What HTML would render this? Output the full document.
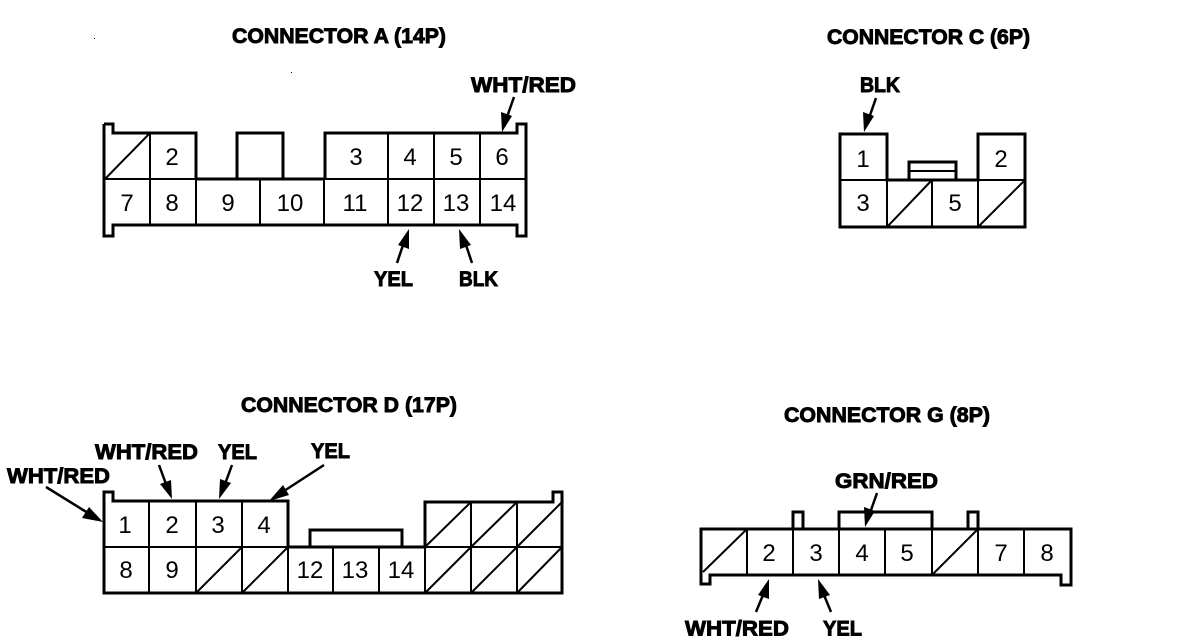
<!DOCTYPE html>
<html>
<head>
<meta charset="utf-8">
<style>
html,body{margin:0;padding:0;background:#fff;width:1200px;height:644px;overflow:hidden}
svg{display:block}
.t{font-family:"Liberation Sans",sans-serif;font-weight:bold;font-size:21px;fill:#000;stroke:#000;stroke-width:.9px}
.n{font-family:"Liberation Sans",sans-serif;font-size:24px;fill:#000;text-anchor:middle}
.o{fill:none;stroke:#000;stroke-width:3;stroke-linejoin:miter}
.i{fill:none;stroke:#000;stroke-width:2}
.a{stroke:#000;stroke-width:2.5;fill:none}
.h{fill:#000;stroke:none}
</style>
</head>
<body>
<svg width="1200" height="644" viewBox="0 0 1200 644" xmlns="http://www.w3.org/2000/svg">
<rect width="1200" height="644" fill="#fff"/>

<!-- Titles -->
<text class="t" x="232" y="43" textLength="214" lengthAdjust="spacingAndGlyphs">CONNECTOR A (14P)</text>
<text class="t" x="827" y="44" textLength="203" lengthAdjust="spacingAndGlyphs">CONNECTOR C (6P)</text>
<text class="t" x="241" y="412" textLength="216" lengthAdjust="spacingAndGlyphs">CONNECTOR D (17P)</text>
<text class="t" x="784" y="422" textLength="206" lengthAdjust="spacingAndGlyphs">CONNECTOR G (8P)</text>

<!-- Connector A -->
<path class="o" d="M104 124H113V133H150"/>
<path class="o" d="M104 124V236H113V225H517V236H526V124H517V133H325V179"/>
<path class="o" d="M150 133H196V179M237 179V133H283V179M196 179H325"/>
<path class="i" d="M104 179H526M150 133V225M196 179V225M260 179V225M324 179V225M388 133V225M434 133V225M480 133V225M105 179L150 133"/>
<text class="n" x="172" y="165">2</text><text class="n" x="356" y="165">3</text><text class="n" x="410" y="165">4</text><text class="n" x="456" y="165">5</text><text class="n" x="502" y="165">6</text>
<text class="n" x="127" y="211">7</text><text class="n" x="172" y="211">8</text><text class="n" x="228" y="211">9</text><text class="n" x="290" y="211">10</text><text class="n" x="355" y="211">11</text><text class="n" x="410" y="211">12</text><text class="n" x="456" y="211">13</text><text class="n" x="503" y="211">14</text>
<text class="t" x="471" y="92" textLength="105" lengthAdjust="spacingAndGlyphs">WHT/RED</text>
<text class="t" x="374" y="286" textLength="39" lengthAdjust="spacingAndGlyphs">YEL</text>
<text class="t" x="459" y="286" textLength="39" lengthAdjust="spacingAndGlyphs">BLK</text>
<path class="a" d="M514 97L507 117"/><polygon class="h" points="502,132 501,112 512,116"/>
<path class="a" d="M397 263L403 245"/><polygon class="h" points="409,229 409,249 398,245"/>
<path class="a" d="M472 263L466 245"/><polygon class="h" points="459,229 471,245 460,249"/>

<!-- Connector C -->
<path class="o" d="M840 227V134H887V180H978V134H1025V227Z"/>
<path class="o" d="M909 180V162H956V180"/>
<path class="i" d="M909 171H956M840 180H887M887 180V227M932 180V227M978 180V227M978 180H1025M887 227L932 180M978 227L1025 180"/>
<text class="n" x="863" y="167">1</text><text class="n" x="1001" y="167">2</text><text class="n" x="863" y="211">3</text><text class="n" x="955" y="211">5</text>
<text class="t" x="860" y="92" textLength="40" lengthAdjust="spacingAndGlyphs">BLK</text>
<path class="a" d="M876 98L869 118"/><polygon class="h" points="864,132 863,112 874,116"/>

<!-- Connector D -->
<path class="o" d="M104 593V492H113V501H288V547H425V502H553V492H562V593Z"/>
<path class="o" d="M310 547V530H402V547"/>
<path class="i" d="M104 547H562M149 501V593M196 501V593M242 501V593M288 547V593M333 547V593M379 547V593M425 547V593M471 502V593M517 502V593M196 593L242 547M242 593L288 547M425 593L471 547M471 593L517 547M517 593L562 547M425 547L471 502M471 547L517 502M517 547L562 502"/>
<text class="n" x="125" y="533">1</text><text class="n" x="172" y="533">2</text><text class="n" x="218" y="533">3</text><text class="n" x="264" y="533">4</text>
<text class="n" x="126" y="578">8</text><text class="n" x="172" y="578">9</text><text class="n" x="310" y="578">12</text><text class="n" x="355" y="578">13</text><text class="n" x="401" y="578">14</text>
<text class="t" x="7" y="483" textLength="103" lengthAdjust="spacingAndGlyphs">WHT/RED</text>
<text class="t" x="95" y="459" textLength="103" lengthAdjust="spacingAndGlyphs">WHT/RED</text>
<text class="t" x="218" y="459" textLength="39" lengthAdjust="spacingAndGlyphs">YEL</text>
<text class="t" x="311" y="458" textLength="39" lengthAdjust="spacingAndGlyphs">YEL</text>
<path class="a" d="M46 487L88 513"/><polygon class="h" points="103,522 82,518 89,507"/>
<path class="a" d="M159 465L166 484"/><polygon class="h" points="172,499 160,484 171,480"/>
<path class="a" d="M232 465L225 484"/><polygon class="h" points="219,499 220,479 231,483"/>
<path class="a" d="M324 465L284 491"/><polygon class="h" points="269,501 283,485 289,495"/>

<!-- Connector G -->
<path class="o" d="M701 529H1071V585H1061V575H710V584H701Z"/>
<path class="o" d="M793 529V512H803V529M839 529V512H932V529M968 529V512H978V529"/>
<path class="i" d="M747 529V575M793 529V575M839 529V575M885 529V575M932 529V575M978 529V575M1024 529V575M703 572L747 529M932 575L978 529"/>
<text class="n" x="769" y="561">2</text><text class="n" x="816" y="561">3</text><text class="n" x="862" y="561">4</text><text class="n" x="907" y="561">5</text><text class="n" x="1001" y="561">7</text><text class="n" x="1047" y="561">8</text>
<text class="t" x="835" y="488" textLength="103" lengthAdjust="spacingAndGlyphs">GRN/RED</text>
<text class="t" x="685" y="635.5" textLength="104" lengthAdjust="spacingAndGlyphs">WHT/RED</text>
<text class="t" x="823" y="635.5" textLength="39" lengthAdjust="spacingAndGlyphs">YEL</text>
<path class="a" d="M877 493L870 513"/><polygon class="h" points="865,527 864,507 875,511"/>
<path class="a" d="M756 612L763 595"/><polygon class="h" points="769,579 769,599 758,595"/>
<path class="a" d="M831 612L824 595"/><polygon class="h" points="818,579 830,595 819,599"/>

<!-- specks -->
<rect x="94" y="38" width="1" height="1" fill="#000"/>
<rect x="291" y="72" width="1" height="1" fill="#000"/>
</svg>
</body>
</html>
